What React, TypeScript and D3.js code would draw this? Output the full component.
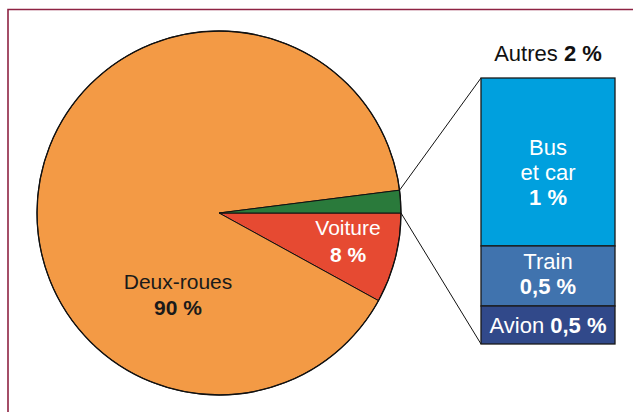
import React from "react";
import * as d3 from "d3";

// ---- data ----
const pieCategories = ["Deux-roues", "Voiture", "Autres"];
const pieValues = [90, 8, 2];
const pieLabelsPct = ["90 %", "8 %", "2 %"];

const otherCategories = ["Bus et car", "Train", "Avion"];
const otherValues = [1, 0.5, 0.5];
const otherLabelsPct = ["1 %", "0,5 %", "0,5 %"];

// ---- layout / style ----
const W = 633;
const H = 412;
const cx = 219;
const cy = 213;
const R = 182;
const pieColors: Record<string, string> = {
  "Deux-roues": "#F39A45",
  Voiture: "#E64A32",
  Autres: "#2A7A3B",
};
const barColors = ["#00A0DE", "#4073AE", "#31498A"];
// visual row weights of the breakdown column (not proportional in the original)
const barRowWeights = [4.42, 1.58, 1];
const barX0 = 481;
const barX1 = 615;
const barTop = 78;
const barBottom = 344;
const FONT = "'Liberation Sans', Arial, sans-serif";

export default function App() {
  const total = d3.sum(pieValues);
  const angle = d3.scaleLinear().domain([0, total]).range([0, 2 * Math.PI]);
  const start = Math.PI / 2;
  const vIdx = 1, aIdx = 2, dIdx = 0;
  const slices = [
    { name: pieCategories[vIdx], a0: start, a1: start + angle(pieValues[vIdx]) },
    { name: pieCategories[dIdx], a0: start + angle(pieValues[vIdx]), a1: start + angle(pieValues[vIdx] + pieValues[dIdx]) },
    { name: pieCategories[aIdx], a0: start + angle(pieValues[vIdx] + pieValues[dIdx]), a1: start + 2 * Math.PI },
  ];
  const arc = d3.arc<any>().innerRadius(0).outerRadius(R);
  const pt = (a: number, r: number) => [cx + r * Math.sin(a), cy - r * Math.cos(a)];

  const autres = slices[2];
  const pUp = pt(autres.a0, R);
  const pDown = pt(autres.a1, R);

  const cum = [0];
  barRowWeights.forEach((w, i) => cum.push(cum[i] + w));
  const y = d3.scaleLinear().domain([0, cum[cum.length - 1]]).range([barTop, barBottom]);
  const rows = otherCategories.map((c, i) => ({
    name: c,
    value: otherValues[i],
    pct: otherLabelsPct[i],
    y0: y(cum[i]),
    y1: y(cum[i + 1]),
    color: barColors[i],
  }));

  return (
    <div style={{ position: "fixed", left: 0, top: 0 }}>
      <svg width={W} height={H} style={{ display: "block", background: "#fff" }} fontFamily={FONT}>
        <path d={`M8,${H} L8,9.5 L${W},9.5`} fill="none" stroke="#8E2343" strokeWidth={1.6} />

        <g transform={`translate(${cx},${cy})`}>
          {slices.map((s) => (
            <path
              key={s.name}
              d={arc({ startAngle: s.a0, endAngle: s.a1 }) as string}
              fill={pieColors[s.name]}
              stroke="#111"
              strokeWidth={1}
              strokeLinejoin="round"
            />
          ))}
        </g>
        <circle cx={cx} cy={cy} r={R} fill="none" stroke="#111" strokeWidth={1.3} />

        <line x1={pUp[0]} y1={pUp[1]} x2={barX0} y2={barTop} stroke="#111" strokeWidth={1} />
        <line x1={pDown[0]} y1={pDown[1]} x2={barX0} y2={barBottom} stroke="#111" strokeWidth={1} />

        <text x={178} y={289} textAnchor="middle" fontSize={21} fill="#1a1a1a">
          {pieCategories[0]}
        </text>
        <text x={178} y={315} textAnchor="middle" fontSize={21} fontWeight="bold" fill="#1a1a1a">
          {pieLabelsPct[0]}
        </text>
        <text x={348} y={235} textAnchor="middle" fontSize={21} fill="#fff">
          {pieCategories[1]}
        </text>
        <text x={348} y={262} textAnchor="middle" fontSize={21} fontWeight="bold" fill="#fff">
          {pieLabelsPct[1]}
        </text>

        <text x={548} y={61} textAnchor="middle" fontSize={22} fill="#111">
          {pieCategories[2]} <tspan fontWeight="bold">{pieLabelsPct[2]}</tspan>
        </text>

        {rows.map((r) => (
          <rect
            key={r.name}
            x={barX0}
            y={r.y0}
            width={barX1 - barX0}
            height={r.y1 - r.y0}
            fill={r.color}
            stroke="#1a1a1a"
            strokeWidth={1.3}
          />
        ))}
        {(() => {
          const mx = (barX0 + barX1) / 2;
          const [bus, train, avion] = rows;
          const busWords = bus.name.split(" ");
          return (
            <g fill="#fff" textAnchor="middle" fontSize={22}>
              <text x={mx} y={bus.y0 + 77}>{busWords[0]}</text>
              <text x={mx} y={bus.y0 + 102}>{busWords.slice(1).join(" ")}</text>
              <text x={mx} y={bus.y0 + 127} fontWeight="bold">{bus.pct}</text>
              <text x={mx} y={train.y0 + 23}>{train.name}</text>
              <text x={mx} y={train.y0 + 48} fontWeight="bold">{train.pct}</text>
              <text x={mx} y={avion.y0 + 27}>
                {avion.name} <tspan fontWeight="bold">{avion.pct}</tspan>
              </text>
            </g>
          );
        })()}
      </svg>
    </div>
  );
}
